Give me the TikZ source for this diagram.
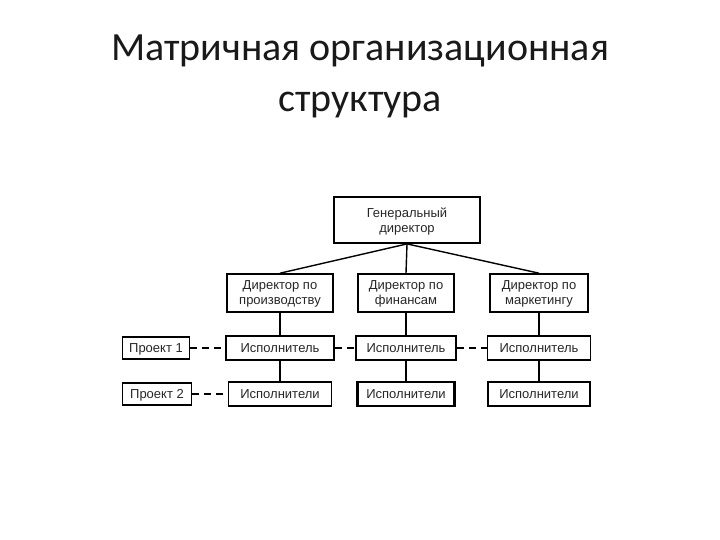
\documentclass[tikz,border=0pt]{standalone}
\usepackage{fontspec}
\setmainfont{Liberation Sans}
\newfontfamily\titlefont{Carlito}
\usepackage{tikz}

\tikzset{
  unitbox/.style={draw=black,line width=1.6pt,inner sep=1pt,text depth=0pt,
    text=black!85,font=\fontsize{13}{15}\selectfont},
  twoline/.style={unitbox,align=center},
  thickbox/.style={unitbox,line width=2.3pt},
  link/.style={line width=1.4pt},
  dashlink/.style={line width=1.3pt,dash pattern=on 7pt off 5pt}
}

\begin{document}
\begin{tikzpicture}[x=1pt,y=-1pt]
    \useasboundingbox (0,0) rectangle (720,540);

    % The title
    \node[font=\titlefont\fontsize{40}{51}\selectfont,anchor=base,text=black!90] (t1) at (360,61) {Матричная организационная};
    \node[font=\titlefont\fontsize{40}{51}\selectfont,anchor=base,text=black!90] (t2) at (360,112) {структура};

    % Place the nodes
    \node[twoline,line width=1.8pt,minimum width=146pt,minimum height=46pt] (gd) at (407,220) {Генеральный\\директор};
    \node[twoline,minimum width=106pt,minimum height=38pt] (d1) at (280,293) {Директор по\\производству};
    \node[twoline,minimum width=96pt,minimum height=38pt]  (d2) at (406,293) {Директор по\\финансам};
    \node[twoline,minimum width=98pt,minimum height=38pt]  (d3) at (539,293) {Директор по\\маркетингу};

    \node[unitbox,minimum width=67pt,minimum height=22pt]  (p1) at (156,348) {Проект 1};
    \node[unitbox,minimum width=108pt,minimum height=24pt] (i1) at (280,348) {Исполнитель};
    \node[unitbox,minimum width=100pt,minimum height=24pt] (i2) at (406,348) {Исполнитель};
    \node[unitbox,minimum width=103pt,minimum height=24pt] (i3) at (539,348) {Исполнитель};

    \node[unitbox,minimum width=69pt,minimum height=22pt]   (p2) at (157,394) {Проект 2};
    \node[unitbox,minimum width=103pt,minimum height=24pt]  (e1) at (280,394) {Исполнители};
    \node[thickbox,minimum width=97pt,minimum height=24pt]  (e2) at (406,394) {Исполнители};
    \node[thickbox,minimum width=102pt,minimum height=24pt] (e3) at (539,394) {Исполнители};

    % Draw the lines
    \draw[link] (gd.south) -- (d1.north);
    \draw[link] (gd.south) -- (d2.north);
    \draw[link] (gd.south) -- (d3.north);
    \draw[link] (d1.south) -- (i1.north);
    \draw[link] (d2.south) -- (i2.north);
    \draw[link] (d3.south) -- (i3.north);
    \draw[link] (i1.south) -- (e1.north);
    \draw[link] (i2.south) -- (e2.north);
    \draw[link] (i3.south) -- (e3.north);

    % Finally the dashed project links
    \draw[dashlink] (p1.east) -- (i1.west);
    \draw[dashlink] (i1.east) -- (i2.west);
    \draw[dashlink] (i2.east) -- (i3.west);
    \draw[dashlink] (p2.east) -- (e1.west);

\end{tikzpicture}
\end{document}
